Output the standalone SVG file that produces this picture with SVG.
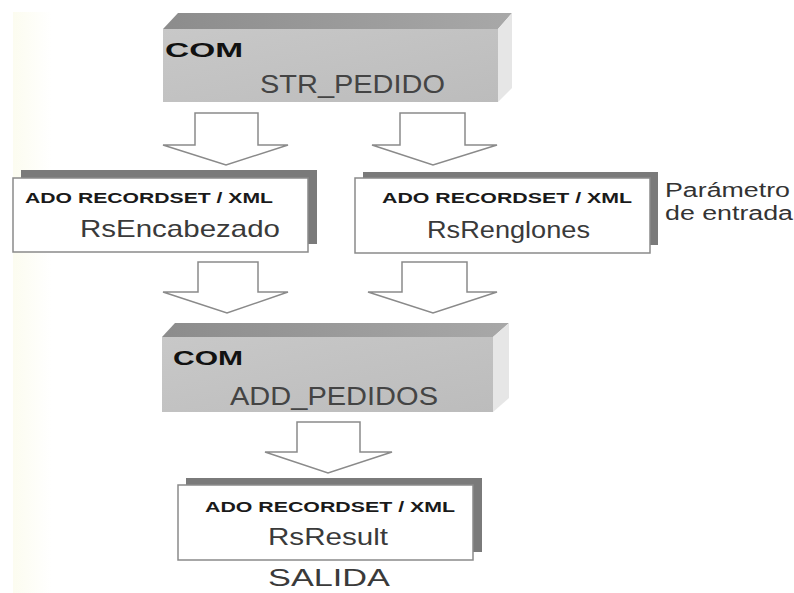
<svg xmlns="http://www.w3.org/2000/svg" width="794" height="593" viewBox="0 0 794 593">
<defs>
<linearGradient id="bg" x1="0" y1="0" x2="1" y2="0">
<stop offset="0" stop-color="#fcfcf0"/>
<stop offset="0.05" stop-color="#ffffff"/>
</linearGradient>
<linearGradient id="topface" x1="0" y1="0" x2="1" y2="0">
<stop offset="0" stop-color="#8c8c8c"/>
<stop offset="1" stop-color="#a8a8a8"/>
</linearGradient>
<linearGradient id="front" x1="0" y1="0" x2="1" y2="1">
<stop offset="0" stop-color="#c8c8c8"/>
<stop offset="1" stop-color="#bcbcbc"/>
</linearGradient>
<style>
.top{fill:url(#topface);}
.front{fill:url(#front);}
.side{fill:#e6e6e6;}
.shadow{fill:#7a7a7a;}
.card{fill:#ffffff;stroke:#8a8a8a;stroke-width:1.5;}
.arrow{fill:#ffffff;stroke:#8a8a8a;stroke-width:1.5;stroke-linejoin:miter;}
.com{font-family:"Liberation Sans",Arial,sans-serif;font-weight:bold;font-size:21px;fill:#111;}
.big{font-family:"Liberation Sans",Arial,sans-serif;font-size:26px;fill:#444;}
.ado{font-family:"Liberation Sans",Arial,sans-serif;font-weight:bold;font-size:15px;fill:#1a1a1a;}
.rs{font-family:"Liberation Sans",Arial,sans-serif;font-size:24px;fill:#3a3a3a;}
.note{font-family:"Liberation Sans",Arial,sans-serif;font-size:20px;fill:#333;}
</style>
</defs>
<rect x="0" y="0" width="794" height="593" fill="#ffffff"/>
<rect x="13" y="12" width="781" height="581" fill="url(#bg)"/>

<g id="connectors">
<polygon class="arrow" points="195,113 258,113 258,145 288,145 226,165 163,145 195,145"/>
<polygon class="arrow" points="400,113 465,113 465,145 497,145 433,165 372,145 400,145"/>
<polygon class="arrow" points="198,262 258,262 258,292 288,292 227,313 163,292 198,292"/>
<polygon class="arrow" points="402,262 467,262 467,292 497,292 433,313 368,292 402,292"/>
<polygon class="arrow" points="297,422 360,422 360,452 392,452 328,473 265,452 297,452"/>
</g>

<g id="com-str-pedido">
<polygon class="top" points="163,29 178,13 512,13 498,29"/>
<polygon class="side" points="498,29 512,13 512,88 498,102"/>
<rect class="front" x="163" y="29" width="335" height="73"/>
<text class="com" x="165" y="57" textLength="78" lengthAdjust="spacingAndGlyphs">COM</text>
<text class="big" x="260" y="93" textLength="185" lengthAdjust="spacingAndGlyphs">STR_PEDIDO</text>
</g>

<g id="rs-encabezado">
<rect class="shadow" x="21" y="170" width="296" height="74"/>
<rect class="card" x="13" y="178" width="295" height="74"/>
<text class="ado" x="25" y="203" textLength="248" lengthAdjust="spacingAndGlyphs">ADO RECORDSET / XML</text>
<text class="rs" x="80" y="237" textLength="200" lengthAdjust="spacingAndGlyphs">RsEncabezado</text>
</g>

<g id="rs-renglones">
<rect class="shadow" x="363" y="172" width="295" height="73"/>
<rect class="card" x="355" y="178" width="295" height="75"/>
<text class="ado" x="382" y="203" textLength="250" lengthAdjust="spacingAndGlyphs">ADO RECORDSET / XML</text>
<text class="rs" x="427" y="238" textLength="163" lengthAdjust="spacingAndGlyphs">RsRenglones</text>
</g>

<g id="parametro-label">
<text class="note" x="665" y="197" textLength="125" lengthAdjust="spacingAndGlyphs">Parámetro</text>
<text class="note" x="665" y="220" textLength="128" lengthAdjust="spacingAndGlyphs">de entrada</text>
</g>

<g id="com-add-pedidos">
<polygon class="top" points="162,337 175,323 509,323 493,337"/>
<polygon class="side" points="493,337 509,323 509,398 493,412"/>
<rect class="front" x="162" y="337" width="331" height="75"/>
<text class="com" x="173" y="365" textLength="70" lengthAdjust="spacingAndGlyphs">COM</text>
<text class="big" x="230" y="405" font-size="27" textLength="208" lengthAdjust="spacingAndGlyphs">ADD_PEDIDOS</text>
</g>

<g id="rs-result">
<rect class="shadow" x="186" y="478" width="296" height="74"/>
<rect class="card" x="178" y="485" width="295" height="75"/>
<text class="ado" x="205" y="512" textLength="250" lengthAdjust="spacingAndGlyphs">ADO RECORDSET / XML</text>
<text class="rs" x="268" y="545" font-size="25" textLength="120" lengthAdjust="spacingAndGlyphs">RsResult</text>
</g>

<g id="salida-label">
<text class="rs" x="268" y="586" font-size="28" fill="#222" textLength="122" lengthAdjust="spacingAndGlyphs">SALIDA</text>
</g>
</svg>
